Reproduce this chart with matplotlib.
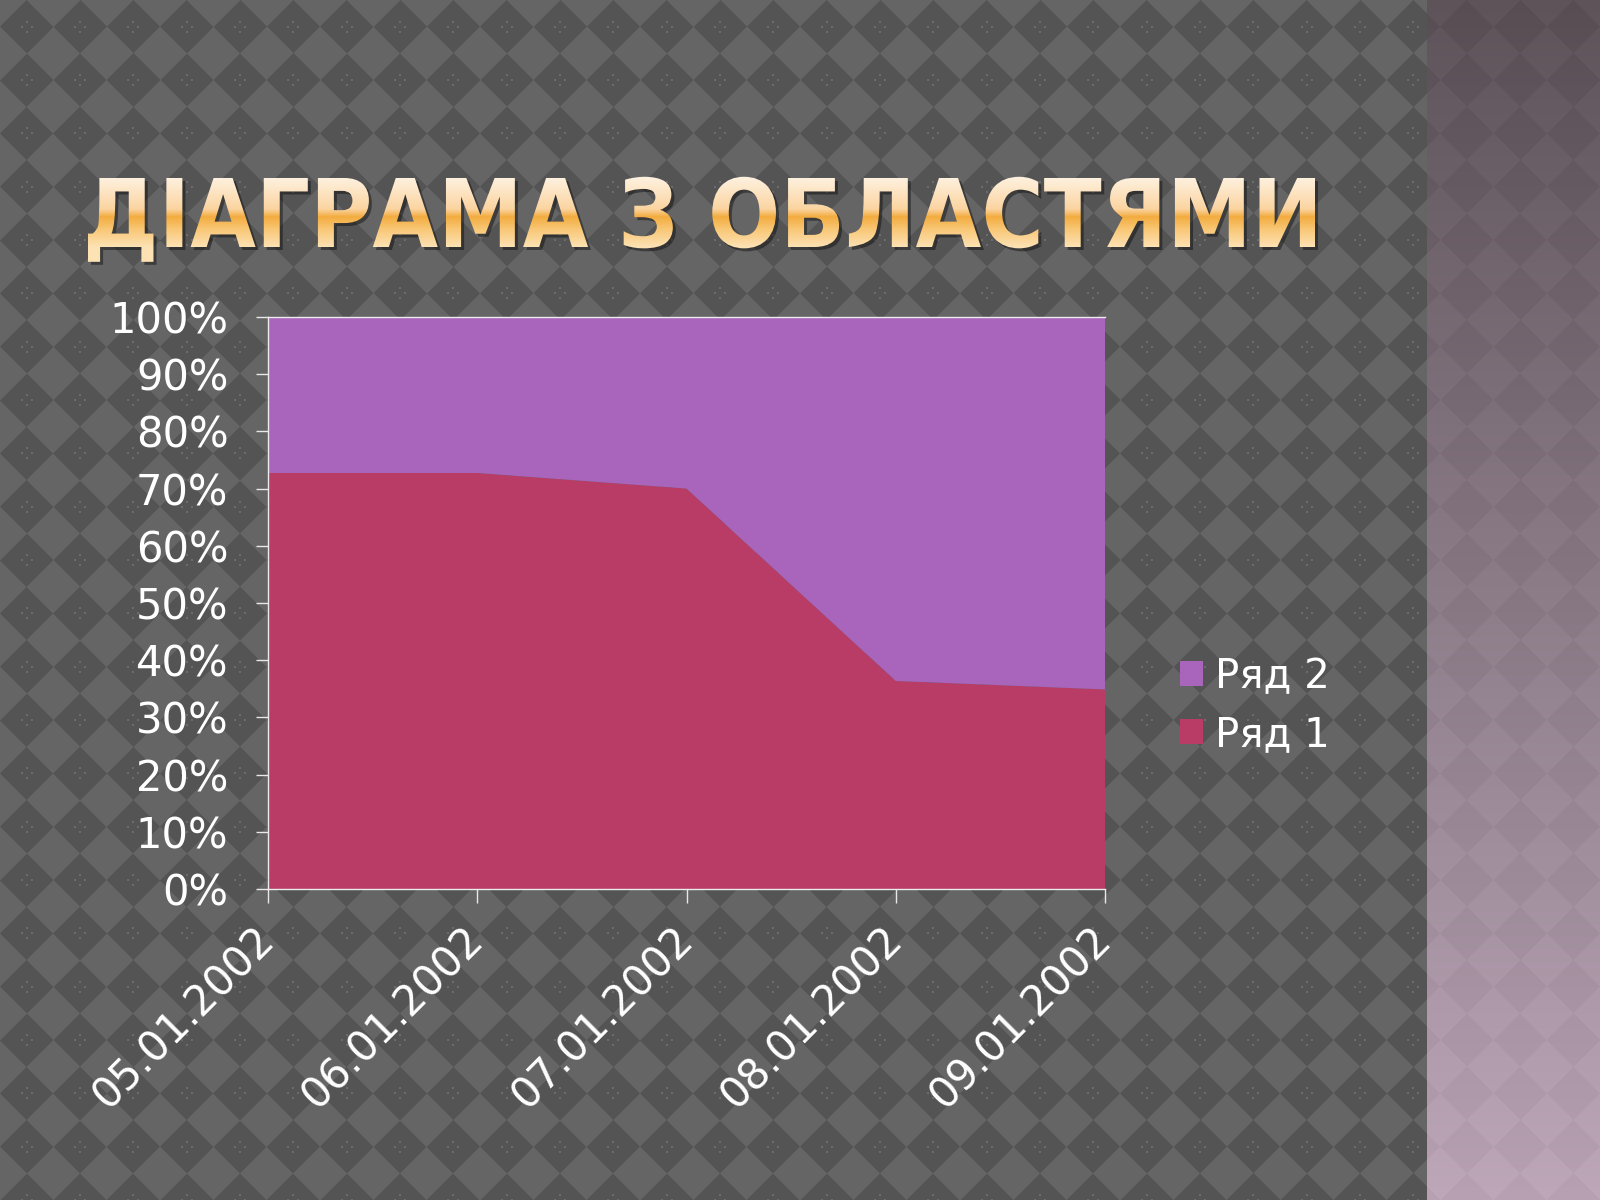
import numpy as np
import matplotlib
matplotlib.use('Agg')
import matplotlib.pyplot as plt
from matplotlib.patches import Patch, PathPatch
from matplotlib.textpath import TextPath
from matplotlib.font_manager import FontProperties
from matplotlib.transforms import Affine2D

plt.rcParams['font.family'] = ['DejaVu Sans']

# data (Excel sample data, shown as 100% stacked area)
dates = ['05.01.2002', '06.01.2002', '07.01.2002', '08.01.2002', '09.01.2002']
row1 = [32, 32, 28, 12, 15]
row2 = [12, 12, 12, 21, 28]
names = ['Ряд 1', 'Ряд 2']
title = 'ДІАГРАМА З ОБЛАСТЯМИ'

c_row1 = '#b93c66'
c_row2 = '#a964bc'
W, H = 1600, 1200

fig = plt.figure(figsize=(16, 12), dpi=100)

# --- slide background: diagonal checker + gradient strip on the right
bg = fig.add_axes([0, 0, 1, 1])
bg.set_xlim(0, W)
bg.set_ylim(0, H)
bg.axis('off')

yy, xx = np.mgrid[0:H, 0:W] + 0.5
P = W / 30.0
c0 = P / 2
dx = (xx - c0 + P / 2) % P - P / 2
dy = (yy - c0 + P / 2) % P - P / 2
dark = (np.abs(dx) + np.abs(dy)) < P / 2
dots = dark & (((np.abs(np.abs(dx) - 5) < 1) & (np.abs(dy) < 1)) |
               ((np.abs(np.abs(dy) - 5) < 1) & (np.abs(dx) < 1)))
img = np.where(dark, 84.0, 101.0)
img = np.where(dots, 108.0, img)
img = np.stack([img, img, img], axis=-1)

strip = xx >= 1427
t = yy / H
top_c = np.array([90, 80, 86.0])
bot_c = np.array([186, 164, 182.0])
grad = top_c[None, None, :] + (bot_c - top_c)[None, None, :] * t[..., None]
grad = grad + np.where(dark, -3.0, 3.0)[..., None]
img = np.where(strip[..., None], grad, img)
bg.imshow(img / 255.0, extent=(0, W, 0, H), origin='upper',
          interpolation='nearest', aspect='auto', zorder=0)

# --- title with glossy gold gradient
fp = FontProperties(family='DejaVu Sans', weight='bold')
tp = TextPath((0, 0), title, size=100, prop=fp)
bb = tp.get_extents()
sx = (1315 - 88) / bb.width
sy = 69 / 72.9
base_y = H - 247
tr = Affine2D().scale(sx, sy).translate(88 - bb.x0 * sx, base_y)
tpath = tr.transform_path(tp)

shadow = Affine2D().translate(3, -3).transform_path(tpath)
bg.add_patch(PathPatch(shadow, facecolor='black', edgecolor='none',
                       alpha=0.4, zorder=1))
clip = PathPatch(tpath, facecolor='none', edgecolor='none', zorder=2)
bg.add_patch(clip)

ys = np.linspace(1040, 930, 220)
tt = np.clip((base_y + 69 - ys) / 69.0, 0, 1)
stops = [0.0, 0.45, 0.53, 0.56, 0.75, 1.0]
cols = np.array([[254, 241, 222], [251, 212, 160], [246, 184, 92],
                 [243, 172, 62], [249, 200, 120], [253, 226, 180]]) / 255.0
gimg = np.stack([np.interp(tt, stops, cols[:, k]) for k in range(3)], axis=-1)
gimg = gimg[:, None, :]
im = bg.imshow(gimg, extent=(80, 1325, 930, 1040), origin='upper',
               aspect='auto', interpolation='bilinear', zorder=3)
im.set_clip_path(clip)

# --- the chart
ax = fig.add_axes([268 / W, 1 - 889 / H, (1105 - 268) / W, (889 - 317) / H])
ax.set_facecolor('none')

x = np.arange(len(dates))
tot = np.array(row1, float) + np.array(row2, float)
p1 = np.array(row1) / tot * 100
p2 = np.array(row2) / tot * 100
ax.stackplot(x, p1, p2, colors=[c_row1, c_row2], linewidth=0)

ax.set_xlim(0, len(dates) - 1)
ax.set_ylim(0, 100)
ax.set_yticks(range(0, 101, 10))
ax.set_yticklabels([f'{v}%' for v in range(0, 101, 10)])
ax.set_xticks(x)
ax.set_xticklabels(dates, rotation=45, ha='right', va='center',
                   rotation_mode='anchor')

ax.tick_params(axis='y', direction='out', length=8.6, width=1,
               color='#e8e8e8', labelcolor='white', labelsize=30, pad=20)
ax.tick_params(axis='x', direction='out', length=10, width=1,
               color='#e8e8e8', labelcolor='white', labelsize=30, pad=22)
for s in ['left', 'bottom', 'top']:
    ax.spines[s].set_color('#ececec')
    ax.spines[s].set_linewidth(1)
ax.spines['right'].set_visible(False)

handles = [Patch(facecolor=c_row2, edgecolor='none', label=names[1]),
           Patch(facecolor=c_row1, edgecolor='none', label=names[0])]
fig.legend(handles=handles, loc='center left',
           bbox_to_anchor=(1180 / W, 1 - 706 / H), frameon=False,
           fontsize=29, labelcolor='white', handlelength=0.57,
           handleheight=0.57, handletextpad=0.3, labelspacing=0.45,
           borderpad=0, borderaxespad=0)

fig.savefig('out.png', dpi=100)
